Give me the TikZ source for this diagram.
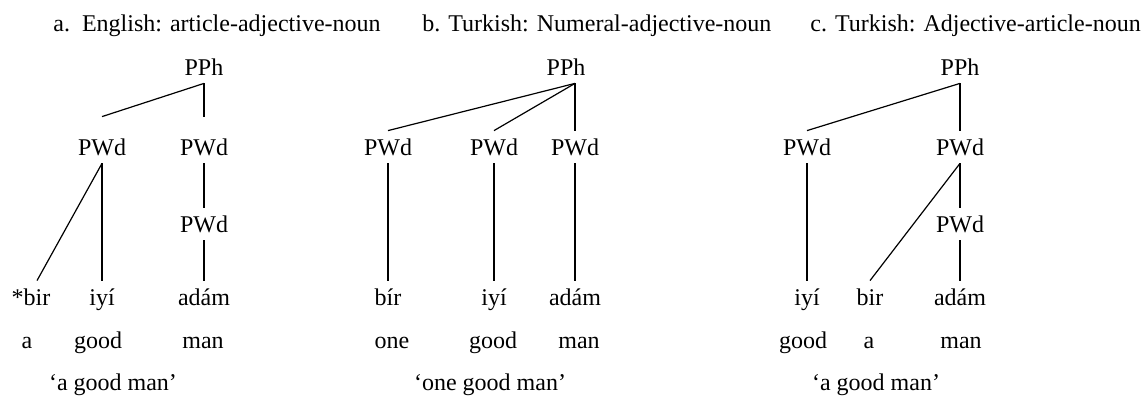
\documentclass[tikz,border=0pt]{standalone}
\usepackage{fontspec}
\setmainfont{Liberation Serif}

\tikzset{
  lbl/.style={inner xsep=0pt, inner ysep=4pt, text height=8pt, text depth=0pt, anchor=base},
  title/.style={inner sep=0pt, anchor=base west},
  branch/.style={line width=0.6pt},
}

\begin{document}
\begin{tikzpicture}[x=0.5pt, y=-0.5pt, font=\fontsize{12}{14}\selectfont]
    \useasboundingbox (0,0) rectangle (1141,396);

    % Titles
    \node[title] (titleA) at (53,32) {a.\ \ English: article-adjective-noun};
    \node[title] (titleB) at (422,32) {b. Turkish: Numeral-adjective-noun};
    \node[title] (titleC) at (810,32) {c. Turkish: Adjective-article-noun};

    % Tree a
    \node[lbl] (pphA) at (204,75) {PPh};
    \node[lbl] (pwdA1) at (102,155) {PWd};
    \node[lbl] (pwdA2) at (204,155) {PWd};
    \node[lbl] (pwdA3) at (204,232) {PWd};
    \node[lbl] (birA) at (37,305) {\llap{*}bir};
    \node[lbl] (iyiA) at (102,305) {iyí};
    \node[lbl] (adamA) at (204,305) {adám};
    \node[lbl] (glossA1) at (27,348) {a};
    \node[lbl] (glossA2) at (98,348) {good};
    \node[lbl] (glossA3) at (203,348) {man};
    \node[lbl] (transA) at (113,390) {`a good man'};
    \foreach \k in {1, 2} {
      \draw [branch] (pphA.south) -- ([yshift=7pt]pwdA\k.north);
    }
    \draw [branch] (pwdA1.south) -- (birA.north);
    \draw [branch] (pwdA1.south) -- (iyiA.north);
    \draw [branch] (pwdA2.south) -- (pwdA3.north);
    \draw [branch] (pwdA3.south) -- (adamA.north);

    % Tree b
    \node[lbl] (pphB) at (566,75) {PPh};
    \node[lbl] (pwdB1) at (388,155) {PWd};
    \node[lbl] (pwdB2) at (494,155) {PWd};
    \node[lbl] (pwdB3) at (575,155) {PWd};
    \node[lbl] (wordB1) at (388,305) {bír};
    \node[lbl] (wordB2) at (494,305) {iyí};
    \node[lbl] (wordB3) at (575,305) {adám};
    \node[lbl] (glossB1) at (392,348) {one};
    \node[lbl] (glossB2) at (493,348) {good};
    \node[lbl] (glossB3) at (579,348) {man};
    \node[lbl] (transB) at (490,390) {`one good man'};
    \coordinate (apexB) at (pwdB3.north |- pphB.south);
    \foreach \k in {1, 2, 3} {
      \draw [branch] (apexB) -- (pwdB\k.north);
      \draw [branch] (pwdB\k.south) -- (wordB\k.north);
    }

    % Tree c
    \node[lbl] (pphC) at (960,75) {PPh};
    \node[lbl] (pwdC1) at (807,155) {PWd};
    \node[lbl] (pwdC2) at (960,155) {PWd};
    \node[lbl] (pwdC3) at (960,232) {PWd};
    \node[lbl] (iyiC) at (807,305) {iyí};
    \node[lbl] (birC) at (870,305) {bir};
    \node[lbl] (adamC) at (960,305) {adám};
    \node[lbl] (glossC1) at (803,348) {good};
    \node[lbl] (glossC2) at (869,348) {a};
    \node[lbl] (glossC3) at (961,348) {man};
    \node[lbl] (transC) at (876,390) {`a good man'};
    \foreach \k in {1, 2} {
      \draw [branch] (pphC.south) -- (pwdC\k.north);
    }
    \draw [branch] (pwdC1.south) -- (iyiC.north);
    \draw [branch] (pwdC2.south) -- (birC.north);
    \draw [branch] (pwdC2.south) -- (pwdC3.north);
    \draw [branch] (pwdC3.south) -- (adamC.north);
\end{tikzpicture}
\end{document}
